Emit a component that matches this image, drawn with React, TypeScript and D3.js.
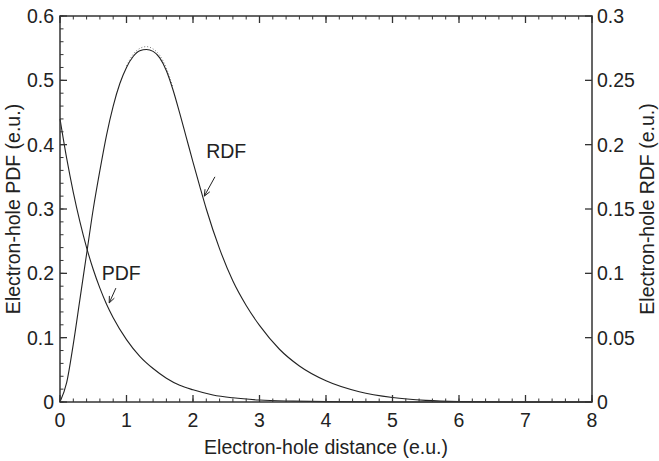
import * as React from "react";
import { scaleLinear, line as d3Line, curveMonotoneX, range } from "d3";

// distance (e.u.) at which the curves were read
const pdfX = [0, 0.1, 0.2, 0.3, 0.4, 0.5, 0.6, 0.7, 0.8, 1.0, 1.2, 1.4, 1.6, 1.8, 2.0, 2.3, 2.6, 3.0, 3.5, 4, 5, 6, 7, 8];
// electron-hole PDF, left axis
const pdfY = [0.44, 0.379, 0.326, 0.28, 0.24, 0.206, 0.177, 0.152, 0.131, 0.097, 0.071, 0.052, 0.037, 0.026, 0.019, 0.011, 0.0065, 0.003, 0.0014, 0.0006, 0.0001, 0, 0, 0];

const rdfX = [0, 0.1, 0.2, 0.3, 0.4, 0.5, 0.6, 0.7, 0.8, 0.9, 1.0, 1.1, 1.2, 1.3, 1.4, 1.5, 1.6, 1.7, 1.8, 1.9, 2.0, 2.1, 2.2, 2.4, 2.6, 2.8, 3.0, 3.3, 3.6, 4.0, 4.5, 5.0, 5.5, 6, 7, 8];
// electron-hole RDF, right axis
const rdfY = [0, 0.015, 0.045, 0.08, 0.115, 0.15, 0.18, 0.2075, 0.23, 0.2475, 0.26, 0.2685, 0.273, 0.274, 0.2725, 0.2675, 0.2575, 0.2425, 0.2245, 0.2055, 0.1865, 0.168, 0.15, 0.119, 0.094, 0.075, 0.0595, 0.041, 0.028, 0.0165, 0.008, 0.0035, 0.00125, 0.0004, 0, 0];

// sampled RDF scatter visible just above the peak
const rdfRawX = [1.0, 1.1, 1.2, 1.3, 1.4, 1.5, 1.6, 1.7];
const rdfRawY = [0.2612, 0.2702, 0.2748, 0.2762, 0.2744, 0.2694, 0.2594, 0.2442];

const xTicks = [0, 1, 2, 3, 4, 5, 6, 7, 8];
const leftTicks = [0, 0.1, 0.2, 0.3, 0.4, 0.5, 0.6];
const rightTicks = [0, 0.05, 0.1, 0.15, 0.2, 0.25, 0.3];

const annotations = [
  { text: "RDF", x: 2.5, y: 0.38, from: [2.33, 0.35], to: [2.17, 0.32] },
  { text: "PDF", x: 0.92, y: 0.19, from: [0.84, 0.177], to: [0.74, 0.154] },
];

const W = 659;
const H = 461;
const margin = { top: 16, right: 67, bottom: 59, left: 60 };
const font = "'Liberation Sans', Arial, Helvetica, sans-serif";
const ink = "#222";

export default function App() {
  const iw = W - margin.left - margin.right;
  const ih = H - margin.top - margin.bottom;
  const x = scaleLinear().domain([0, 8]).range([0, iw]);
  const yL = scaleLinear().domain([0, 0.6]).range([ih, 0]);
  const yR = scaleLinear().domain([0, 0.3]).range([ih, 0]);

  const pdfLine = d3Line<number>()
    .x((_, i) => x(pdfX[i]))
    .y(d => yL(d))
    .curve(curveMonotoneX);
  const rdfLine = d3Line<number>()
    .x((_, i) => x(rdfX[i]))
    .y(d => yR(d))
    .curve(curveMonotoneX);
  const rawLine = d3Line<number>()
    .x((_, i) => x(rdfRawX[i]))
    .y(d => yR(d))
    .curve(curveMonotoneX);

  const xMinor = range(0, 8.001, 0.2);
  const yMinor = range(0, 0.6001, 0.02);

  return (
    <svg width={W} height={H} style={{ position: "absolute", left: 0, top: 0 }}>
      <rect width={W} height={H} fill="#fff" />
      <g transform={`translate(${margin.left},${margin.top})`} fontFamily={font} fontSize={19.5} fill={ink}>
        {/* curves */}
        <path d={rawLine(rdfRawY) || ""} fill="none" stroke="#555" strokeWidth={0.8} strokeDasharray="1 2" />
        <path d={pdfLine(pdfY) || ""} fill="none" stroke={ink} strokeWidth={1.1} />
        <path d={rdfLine(rdfY) || ""} fill="none" stroke={ink} strokeWidth={1.1} />

        {/* frame */}
        <rect width={iw} height={ih} fill="none" stroke="#333" strokeWidth={1.5} />

        {/* bottom and top ticks */}
        {xMinor.map((t, i) => (
          <g key={"xm" + i}>
            <line x1={x(t)} x2={x(t)} y1={ih} y2={ih - 3.5} stroke="#333" />
            <line x1={x(t)} x2={x(t)} y1={0} y2={3.5} stroke="#333" />
          </g>
        ))}
        {xTicks.map(t => (
          <g key={"x" + t}>
            <line x1={x(t)} x2={x(t)} y1={ih} y2={ih - 7} stroke="#333" strokeWidth={1.3} />
            <line x1={x(t)} x2={x(t)} y1={0} y2={7} stroke="#333" strokeWidth={1.3} />
            <text x={x(t)} y={ih + 25} textAnchor="middle">{t}</text>
          </g>
        ))}

        {/* left axis */}
        {yMinor.map((t, i) => (
          <line key={"ym" + i} x1={0} x2={3.5} y1={yL(t)} y2={yL(t)} stroke="#333" />
        ))}
        {leftTicks.map(t => (
          <g key={"yl" + t}>
            <line x1={0} x2={7} y1={yL(t)} y2={yL(t)} stroke="#333" strokeWidth={1.3} />
            <text x={-6} y={yL(t) + 7} textAnchor="end">{t}</text>
          </g>
        ))}

        {/* right axis */}
        {rightTicks.map(t => (
          <g key={"yr" + t}>
            <line x1={iw} x2={iw - 7} y1={yR(t)} y2={yR(t)} stroke="#333" strokeWidth={1.3} />
            <text x={iw + 5} y={yR(t) + 7} textAnchor="start">{t}</text>
          </g>
        ))}

        {/* axis titles */}
        <text x={iw / 2} y={ih + 52} textAnchor="middle">Electron-hole distance (e.u.)</text>
        <text transform={`translate(${-40},${ih / 2}) rotate(-90)`} textAnchor="middle">Electron-hole PDF (e.u.)</text>
        <text transform={`translate(${iw + 62},${ih / 2}) rotate(-90)`} textAnchor="middle">Electron-hole RDF (e.u.)</text>

        {/* annotations */}
        {annotations.map(a => {
          const x1 = x(a.from[0]);
          const y1 = yL(a.from[1]);
          const x2 = x(a.to[0]);
          const y2 = yL(a.to[1]);
          const ang = Math.atan2(y2 - y1, x2 - x1);
          const hl = 7;
          const hw = 0.4;
          const p1 = [x2 - hl * Math.cos(ang - hw), y2 - hl * Math.sin(ang - hw)];
          const p2 = [x2 - hl * Math.cos(ang + hw), y2 - hl * Math.sin(ang + hw)];
          return (
            <g key={a.text}>
              <text x={x(a.x)} y={yL(a.y)} textAnchor="middle">{a.text}</text>
              <line x1={x1} y1={y1} x2={x2} y2={y2} stroke={ink} strokeWidth={1} />
              <path d={`M${p1[0]},${p1[1]}L${x2},${y2}L${p2[0]},${p2[1]}`} fill="none" stroke={ink} strokeWidth={1} />
            </g>
          );
        })}
      </g>
    </svg>
  );
}
